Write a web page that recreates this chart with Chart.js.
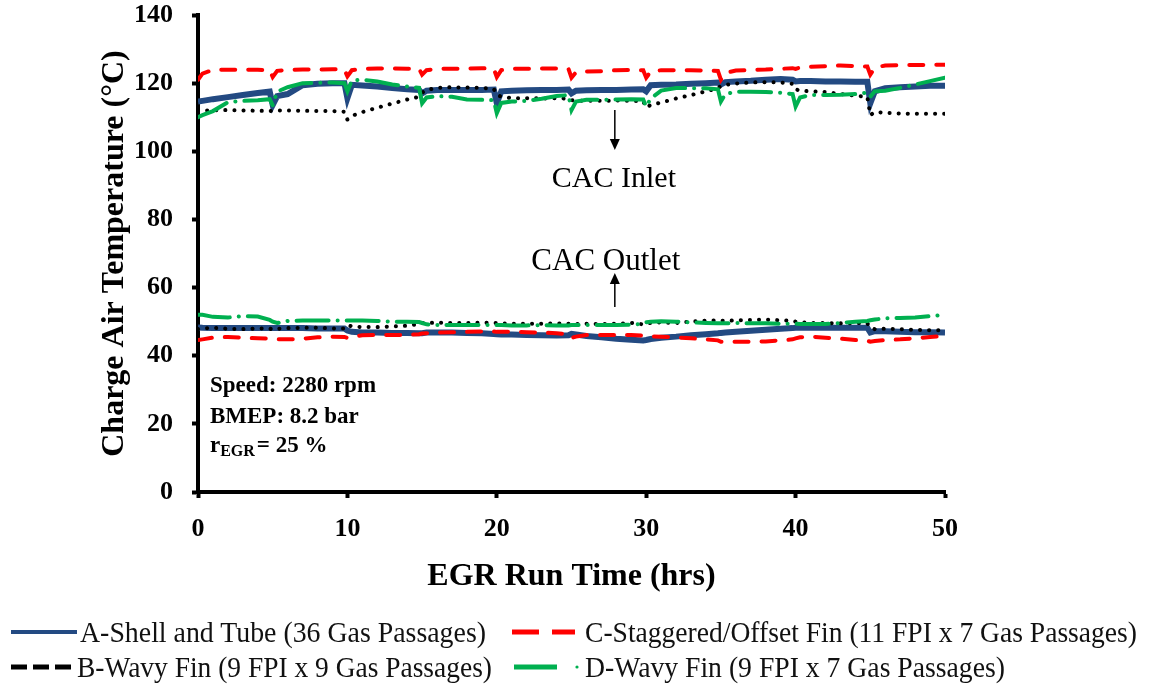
<!DOCTYPE html>
<html>
<head>
<meta charset="utf-8">
<script src="https://cdn.jsdelivr.net/npm/chart.js@4/dist/chart.umd.min.js"></script>
<style>
body { margin: 0; background: #fff; }
#wrap { position: relative; width: 1149px; height: 686px; }
.leg { position: absolute; font-family: "Liberation Serif"; font-size: 30px; line-height: 30px; white-space: nowrap; transform-origin: 0 50%; color: #111; }
#samples { position: absolute; left: 0; top: 0; }
</style>
</head>
<body>
<div id="wrap">
  <canvas id="myChart" width="1149" height="686"></canvas>
  <svg id="samples" width="1149" height="686">
    <line x1="11" y1="632" x2="77" y2="632" stroke="#234a82" stroke-width="4"/>
    <line x1="512" y1="632" x2="539" y2="632" stroke="#ff0000" stroke-width="5"/>
    <line x1="552" y1="632" x2="575" y2="632" stroke="#ff0000" stroke-width="5"/>
    <line x1="11" y1="667" x2="27" y2="667" stroke="#000" stroke-width="5"/>
    <line x1="33" y1="667" x2="49" y2="667" stroke="#000" stroke-width="5"/>
    <line x1="55" y1="667" x2="71" y2="667" stroke="#000" stroke-width="5"/>
    <line x1="514" y1="667" x2="557" y2="667" stroke="#00b050" stroke-width="5"/>
    <circle cx="577" cy="667" r="1.6" fill="#00b050"/>
  </svg>
  <span class="leg" data-w="406" style="left:80px;top:617px">A-Shell and Tube (36 Gas Passages)</span>
  <span class="leg" data-w="552" style="left:585px;top:617px">C-Staggered/Offset Fin (11 FPI x 7 Gas Passages)</span>
  <span class="leg" data-w="415" style="left:77px;top:652px">B-Wavy Fin (9 FPI x 9 Gas Passages)</span>
  <span class="leg" data-w="420" style="left:585px;top:652px">D-Wavy Fin (9 FPI x 7 Gas Passages)</span>
</div>
<script>
// EGR run time, hrs (shared by all series)
var hours = [
  0, 0.3, 1, 2, 3, 4, 4.8,
  5, 5.3, 6, 7, 8, 9, 9.8,
  10, 10.3, 11, 12, 13, 14, 14.8,
  15, 15.3, 16, 17, 18, 19, 19.8,
  20, 20.3, 21, 22, 23, 24, 24.8,
  25, 25.3, 26, 27, 28, 29, 29.8,
  30, 30.3, 31, 32, 33, 34, 34.8,
  35, 35.3, 36, 37, 38, 39, 39.8,
  40, 40.3, 41, 42, 43, 44, 44.8,
  45, 45.3, 46, 47, 48, 49, 50
];

// CAC inlet temperatures (°C)
var inletA = [
  114.6, 114.8, 115.3, 115.9, 116.5, 117.1, 117.5,
  113.6, 116.2, 116.8, 119.4, 119.8, 120, 120,
  115.6, 119.5, 119.3, 119, 118.6, 118.2, 118,
  117, 117.8, 118, 118, 118, 118, 118.1,
  114.1, 117.6, 117.8, 117.9, 118, 118, 118.1,
  117, 117.8, 117.9, 118, 118, 118.1, 118.2,
  117.6, 119.4, 119.5, 119.6, 119.8, 120, 120.2,
  119.6, 120.3, 120.5, 120.7, 121, 121.2, 121,
  120.5, 120.6, 120.6, 120.5, 120.5, 120.4, 120.4,
  114.1, 117.6, 118.5, 118.8, 119, 119.2, 119.2
];
var inletB = [
  112, 112, 112, 112.1, 112, 111.9, 111.8,
  111.9, 112, 112, 111.9, 111.8, 111.8, 111.6,
  109.3, 110.4, 111.5, 112.8, 114, 115.2, 116,
  117.2, 118, 118.6, 118.8, 118.7, 118.6, 118.3,
  116.6, 116, 115.6, 115.6, 115.5, 115.6, 115.4,
  115, 114.9, 114.8, 114.8, 114.9, 114.8, 114.7,
  112.8, 113.6, 114.3, 115.5, 116.5, 117.6, 118.5,
  119.2, 119.5, 119.9, 120.2, 120.3, 120.2, 119.8,
  118.2, 117.8, 117.6, 117.4, 116.8, 116.3, 116,
  110.6, 111.5, 111.3, 111.1, 111, 111, 111
];
var inletC = [
  121, 122.8, 123.9, 123.9, 124, 123.9, 123.8,
  121.8, 123.6, 123.9, 124, 124, 124.1, 124,
  122, 123.8, 124.2, 124.3, 124.3, 124.2, 124.2,
  122.5, 123.8, 124.2, 124.2, 124.3, 124.4, 124.2,
  121.8, 123.8, 124.2, 124.2, 124.3, 124.3, 124.2,
  121.6, 123.2, 123.4, 123.5, 123.8, 123.9, 123.8,
  121.6, 123.4, 123.8, 123.8, 123.8, 123.7, 123.6,
  121, 123, 123.7, 123.9, 124, 124.2, 124.4,
  124.2, 124.6, 124.8, 125, 125.2, 125, 124.9,
  122.5, 124.5, 125.2, 125.3, 125.3, 125.4, 125.4
];
var inletD = [
  110, 110.6, 111.8, 114.4, 114.8, 115, 115.3,
  113.5, 117.5, 118.8, 120, 120.1, 120.2, 120,
  117.6, 120.8, 121, 120.5, 119.6, 119, 118.6,
  114.1, 115.8, 116.2, 116, 115.2, 115.1, 115,
  111.2, 114.2, 114.6, 114.8, 115.4, 116.2, 116.5,
  112.1, 114.6, 115.1, 115.1, 115.2, 115.3, 115.2,
  113.1, 115.5, 117.8, 118.6, 118.5, 118.5, 118.2,
  114.6, 116.8, 117.5, 117.5, 117.4, 117.2, 116.8,
  113.1, 115.8, 116.5, 116.5, 116.6, 116.8, 117.2,
  116, 117.6, 117.8, 118.6, 119.6, 120.6, 121.6
];

// CAC outlet temperatures (°C)
var outletA = [
  48.3, 48.2, 48.1, 48.1, 48.1, 48.1, 48.1,
  48.1, 48.1, 48.1, 48.1, 48, 48, 48,
  47.4, 47, 46.8, 46.8, 46.7, 46.7, 46.6,
  46.6, 46.8, 46.8, 46.8, 46.7, 46.6, 46.4,
  46.3, 46.2, 46.2, 46.1, 46, 45.9, 46,
  46.4, 46.2, 45.8, 45.4, 45, 44.7, 44.5,
  44.6, 44.9, 45.3, 45.6, 46, 46.3, 46.6,
  46.7, 46.8, 47, 47.3, 47.6, 47.9, 48.1,
  48.2, 48.2, 48.3, 48.2, 48.2, 48.2, 48.2,
  46.8, 47.2, 47.2, 47, 46.9, 46.9, 46.8
];
var outletB = [
  47.8, 48, 48.2, 47.9, 47.8, 48, 48,
  47.6, 47.9, 48.1, 48.2, 48.2, 48, 48,
  49, 48.6, 48.4, 48.4, 48.6, 48.8, 49.3,
  49.6, 49.6, 49.7, 49.6, 49.6, 49.7, 49.6,
  49.6, 49.5, 49.4, 49.4, 49.4, 49.5, 49.4,
  49.3, 49.3, 49.4, 49.3, 49.4, 49.6, 49.2,
  49.5, 49.6, 49.8, 49.6, 50, 50.3, 50.4,
  50.3, 50.2, 50.4, 50.5, 50.6, 50.4, 50.2,
  50, 49.8, 49.6, 49.6, 49.5, 49.6, 49.5,
  48.2, 47.8, 47.9, 47.8, 47.6, 47.5, 47.5
];
var outletC = [
  44.6, 44.8, 45.3, 45.5, 45.3, 45.1, 45,
  44.9, 44.8, 44.8, 45, 45.4, 45.6, 45.5,
  45.2, 45.6, 46, 46.1, 46.1, 46.1, 46.3,
  46.5, 46.6, 46.8, 46.9, 47, 47.1, 47.1,
  47, 47, 47, 46.9, 46.8, 46.6, 46.2,
  45.2, 45.6, 46.1, 46.1, 46.1, 46.1, 45.9,
  45.8, 45.7, 45.6, 45.4, 45.1, 44.8, 44.5,
  44.1, 44.1, 44.1, 44.1, 44.2, 44.5, 44.8,
  45.1, 45.4, 45.6, 45.3, 45, 44.6, 44.4,
  44.1, 44.3, 44.6, 44.8, 45.1, 45.5, 45.8
];
var outletD = [
  52, 52, 51.4, 51.2, 51.6, 51.5, 50.5,
  50, 49.6, 50.2, 50.3, 50.3, 50.3, 50.3,
  50.3, 50.3, 50.3, 50.2, 50, 50, 49.9,
  49.6, 49.2, 49, 49, 49, 49, 49.1,
  49, 49, 48.9, 48.9, 49, 48.9, 48.9,
  49, 49, 49, 49, 49, 49.1, 49.4,
  49.8, 50, 50.1, 50, 49.8, 49.6, 49.5,
  49.5, 49.5, 49.6, 49.5, 49.5, 49.4, 49.4,
  49.4, 49.3, 49.3, 49.3, 49.6, 50, 50.2,
  50.4, 50.6, 51, 51.1, 51.2, 51.6, 52
];

var xTicks = [0, 10, 20, 30, 40, 50];
var yTicks = [0, 20, 40, 60, 80, 100, 120, 140];

function pts(values) {
  return hours.map(function(h, i) { return {x: h, y: values[i]}; });
}

var styleA = {borderColor: '#234a82', borderWidth: 6, order: 4};
var styleB = {borderColor: '#000000', borderWidth: 4, borderDash: [0.1, 9], borderCapStyle: 'round', order: 3};
var styleC = {borderColor: '#ff0000', borderWidth: 4, borderDash: [14, 13], borderCapStyle: 'round', order: 2};
var styleD = {borderColor: '#00b050', borderWidth: 4, borderDash: [32, 9, 0.1, 9], borderCapStyle: 'round', order: 1};

function series(label, values, style) {
  return Object.assign({
    label: label,
    data: pts(values),
    pointRadius: 0,
    tension: 0,
    fill: false
  }, style);
}

var notes = {
  id: 'notes',
  afterDatasetsDraw: function(chart) {
    var ctx = chart.ctx;
    var x = chart.scales.x, y = chart.scales.y;
    ctx.save();
    ctx.fillStyle = '#000';
    ctx.strokeStyle = '#000';
    ctx.textBaseline = 'alphabetic';

    // run conditions
    var lx = x.getPixelForValue(0.8);
    ctx.textAlign = 'left';
    ctx.font = 'bold 23px "Liberation Serif"';
    ctx.fillText('Speed: 2280 rpm', lx, y.getPixelForValue(29.35));
    ctx.fillText('BMEP: 8.2 bar', lx, y.getPixelForValue(20.25));
    var by = y.getPixelForValue(11.74);
    ctx.fillText('r', lx, by);
    var cx = lx + ctx.measureText('r').width;
    ctx.font = 'bold 16px "Liberation Serif"';
    ctx.fillText('EGR', cx, by + 4);
    cx += ctx.measureText('EGR').width + 2;
    ctx.font = 'bold 23px "Liberation Serif"';
    ctx.fillText('= 25 %', cx, by);

    // CAC labels and arrows
    ctx.textAlign = 'center';
    ctx.font = '30px "Liberation Serif"';
    ctx.fillText('CAC Inlet', x.getPixelForValue(27.84), y.getPixelForValue(89.5));
    ctx.font = '31px "Liberation Serif"';
    ctx.fillText('CAC Outlet', x.getPixelForValue(27.3), y.getPixelForValue(65.2));

    function arrow(xv, fromV, toV) {
      var ax = x.getPixelForValue(xv);
      var y0 = y.getPixelForValue(fromV), y1 = y.getPixelForValue(toV);
      var dir = y1 > y0 ? 1 : -1;
      ctx.lineWidth = 1.5;
      ctx.beginPath();
      ctx.moveTo(ax, y0);
      ctx.lineTo(ax, y1 - dir * 9);
      ctx.stroke();
      ctx.beginPath();
      ctx.moveTo(ax, y1);
      ctx.lineTo(ax - 5, y1 - dir * 11);
      ctx.lineTo(ax + 5, y1 - dir * 11);
      ctx.closePath();
      ctx.fill();
    }
    arrow(27.9, 112.1, 100.4);
    arrow(27.9, 54.3, 64.3);
    ctx.restore();
  }
};

var ctx = document.getElementById('myChart').getContext('2d');
var myChart = new Chart(ctx, {
  type: 'line',
  data: {
    datasets: [
      series('A-Shell and Tube (36 Gas Passages)', inletA, styleA),
      series('A outlet', outletA, styleA),
      series('B-Wavy Fin (9 FPI x 9 Gas Passages)', inletB, styleB),
      series('B outlet', outletB, styleB),
      series('C-Staggered/Offset Fin (11 FPI x 7 Gas Passages)', inletC, styleC),
      series('C outlet', outletC, styleC),
      series('D-Wavy Fin (9 FPI x 7 Gas Passages)', inletD, styleD),
      series('D outlet', outletD, styleD)
    ]
  },
  options: {
    responsive: false,
    animation: false,
    devicePixelRatio: 1,
    layout: {padding: {left: 0, right: 204, top: 15, bottom: 90}},
    plugins: {legend: {display: false}, tooltip: {enabled: false}},
    scales: {
      x: {
        type: 'linear',
        min: 0, max: 50,
        afterFit: function(s) { s.height = 104; s.paddingLeft = 0; s.paddingRight = 0; },
        afterBuildTicks: function(s) { s.ticks = xTicks.map(function(v) { return {value: v}; }); },
        border: {color: '#000', width: 4},
        grid: {drawOnChartArea: false, drawTicks: true, tickLength: 6, tickWidth: 4, tickColor: '#000'},
        ticks: {color: '#000', padding: 16, font: {family: 'Liberation Serif', size: 26, weight: 'bold'}},
        title: {display: true, text: 'EGR Run Time (hrs)', color: '#000', padding: {top: 0, bottom: 0},
                font: {family: 'Liberation Serif', size: 32, weight: 'bold'}}
      },
      y: {
        min: 0, max: 140,
        afterFit: function(s) { s.width = 198; s.paddingTop = 0; s.paddingBottom = 0; },
        afterBuildTicks: function(s) { s.ticks = yTicks.map(function(v) { return {value: v}; }); },
        border: {color: '#000', width: 4},
        grid: {drawOnChartArea: false, drawTicks: true, tickLength: 6, tickWidth: 4, tickColor: '#000'},
        ticks: {color: '#000', padding: 19, font: {family: 'Liberation Serif', size: 26, weight: 'bold'}},
        title: {display: true, text: 'Charge Air Temperature (°C)', color: '#000', padding: {top: 96, bottom: 0},
                font: {family: 'Liberation Serif', size: 32, weight: 'bold'}}
      }
    }
  },
  plugins: [notes]
});

// squeeze legend text to the widths in the original
document.querySelectorAll('.leg').forEach(function(el) {
  var w = el.getBoundingClientRect().width;
  el.style.transform = 'scaleX(' + (parseFloat(el.dataset.w) / w) + ')';
});
</script>
</body>
</html>
